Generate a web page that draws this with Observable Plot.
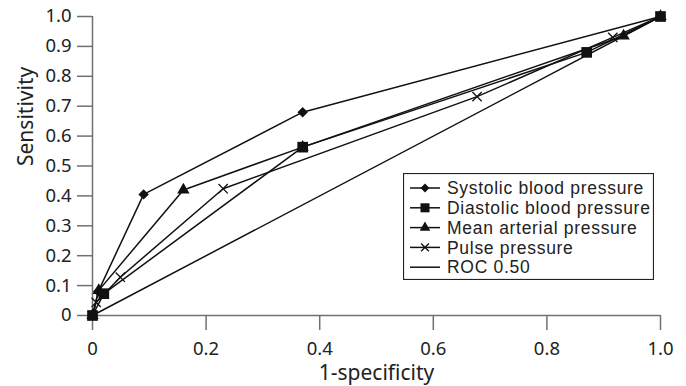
<!DOCTYPE html>
<html>
<head>
<meta charset="utf-8">
<script src="https://cdn.jsdelivr.net/npm/d3@7"></script>
<script src="https://cdn.jsdelivr.net/npm/@observablehq/plot@0.6"></script>
<style>
  body { margin: 0; background: #fff; }
  #wrap { position: relative; width: 686px; height: 386px; font-family: "Noto Sans", sans-serif; }
  #legend { position: absolute; left: 403px; top: 173px; }
</style>
</head>
<body>
<div id="wrap"><div id="chart"></div><div id="legend"></div></div>
<script>
// Series names
const seriesNames = ["Systolic blood pressure", "Diastolic blood pressure", "Mean arterial pressure", "Pulse pressure", "ROC 0.50"];
const seriesSymbols = ["diamond", "square", "triangle", "times", null];

// 1-specificity (x) and sensitivity (y) per series
const sysX = [0, 0.01, 0.09, 0.37, 1];
const sysY = [0, 0.08, 0.405, 0.68, 1];
const diaX = [0, 0.02, 0.37, 0.87, 1];
const diaY = [0, 0.073, 0.563, 0.88, 1];
const mapX = [0, 0.011, 0.16, 0.37, 0.935, 1];
const mapY = [0, 0.084, 0.42, 0.563, 0.935, 1];
const ppX = [0, 0.0065, 0.049, 0.23, 0.677, 0.916, 1];
const ppY = [0, 0.044, 0.128, 0.424, 0.732, 0.93, 1];
const rocX = [0, 1];
const rocY = [0, 1];

const xTicks = [0, 0.2, 0.4, 0.6, 0.8, 1.0];
const yTicks = [0, 0.1, 0.2, 0.3, 0.4, 0.5, 0.6, 0.7, 0.8, 0.9, 1.0];

const allX = [sysX, diaX, mapX, ppX, rocX];
const allY = [sysY, diaY, mapY, ppY, rocY];
const data = [];
allX.forEach((xs, i) => xs.forEach((x, j) => data.push({series: seriesNames[i], symbol: seriesSymbols[i], x, y: allY[i][j]})));

const fmt = d => d === 0 ? "0" : d.toFixed(1);
const axisColor = "#707070";
const ink = "#111";
const FONT = "Noto Sans, sans-serif";
const LEGEND_FONT = "Liberation Sans, Arial, sans-serif";

// marker symbol implementations and radii
const symImpl = { diamond: d3.symbolDiamond2, square: d3.symbolSquare, triangle: d3.symbolTriangle, times: d3.symbolTimes };
const symR = { diamond: 4.7, square: 6, triangle: 4.6, times: 4.3 };

const dotMarks = ["diamond", "square", "triangle", "times"].map(s =>
  Plot.dot(data.filter(d => d.symbol === s), {
    x: "x", y: "y", symbol: symImpl[s], r: symR[s],
    fill: s === "times" ? "none" : ink,
    stroke: s === "times" ? ink : "none",
    strokeWidth: 1.3
  })
);

const chart = Plot.plot({
  width: 686,
  height: 386,
  marginLeft: 92,
  marginRight: 26,
  marginTop: 16,
  marginBottom: 71,
  style: { fontFamily: FONT, fontSize: "18px", color: "#222", background: "#fff" },
  x: { domain: [0, 1] },
  y: { domain: [0, 1] },
  marks: [
    Plot.axisX({ ticks: xTicks, tickFormat: fmt, tickSize: 15, tickPadding: 11, stroke: axisColor, strokeWidth: 1.5, fill: "#222", fontSize: 18.5, label: null }),
    Plot.axisY({ ticks: yTicks, tickFormat: fmt, tickSize: 15, tickPadding: 6, stroke: axisColor, strokeWidth: 1.5, fill: "#222", fontSize: 18.5, label: null }),
    Plot.ruleX([0], { stroke: axisColor, strokeWidth: 1.5 }),
    Plot.ruleY([0], { stroke: axisColor, strokeWidth: 1.5 }),
    Plot.line(data, { x: "x", y: "y", z: "series", stroke: ink, strokeWidth: 1.5 }),
    ...dotMarks,
    Plot.text(["1-specificity"], { frameAnchor: "bottom", lineAnchor: "middle", dy: 58, fontSize: 21, fill: "#222" }),
    Plot.text(["Sensitivity"], { frameAnchor: "left", dx: -66, rotate: -90, fontSize: 21, fill: "#222" })
  ]
});
document.getElementById("chart").appendChild(chart);

// Legend
const lw = 251, lh = 107, rowH = 19.8;
const svg = d3.select("#legend").append("svg").attr("width", lw).attr("height", lh)
  .style("font-family", LEGEND_FONT);
svg.append("rect").attr("x", 0.5).attr("y", 0.5).attr("width", lw - 1).attr("height", lh - 1)
  .attr("fill", "#fff").attr("stroke", "#222").attr("stroke-width", 1.2);
seriesNames.forEach((name, i) => {
  const cy = 15 + i * rowH;
  const g = svg.append("g");
  g.append("line").attr("x1", 7).attr("x2", 37).attr("y1", cy).attr("y2", cy).attr("stroke", ink).attr("stroke-width", 1.5);
  const s = seriesSymbols[i];
  if (s) {
    const r = symR[s] * 0.85;
    const path = d3.symbol(symImpl[s], r * r * Math.PI)();
    g.append("path").attr("d", path).attr("transform", `translate(22,${cy})`)
      .attr("fill", s === "times" ? "none" : ink).attr("stroke", s === "times" ? ink : "none").attr("stroke-width", 1.3);
  }
  g.append("text").attr("x", 44).attr("y", cy).attr("dy", "0.35em").attr("font-size", 17.5)
    .attr("letter-spacing", "0.7px").attr("fill", "#222").text(name);
});
</script>
</body>
</html>
